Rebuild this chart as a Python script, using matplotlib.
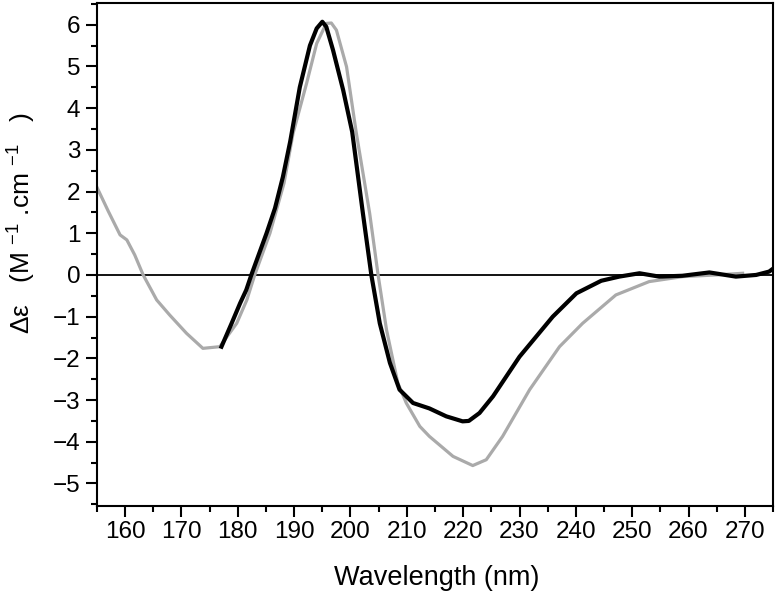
import matplotlib
matplotlib.use('Agg')
import matplotlib.pyplot as plt
from matplotlib.ticker import MultipleLocator

plt.rcParams['font.family'] = ['Liberation Sans', 'DejaVu Sans']
plt.rcParams['mathtext.fontset'] = 'custom'
plt.rcParams['mathtext.rm'] = 'Liberation Sans'
plt.rcParams['mathtext.it'] = 'Liberation Sans:italic'

# grey spectrum (wavelength nm, delta epsilon)
grey_x = [155.0, 157.0, 159.1, 160.3, 161.7, 163.2, 165.6, 167.9, 170.9, 173.8,
          176.8, 179.8, 181.6, 183.0, 185.7, 188.2, 189.8, 192.2, 194.0, 195.7,
          196.6, 197.5, 199.3, 201.0, 203.4, 204.9, 206.4, 208.4, 209.9, 212.3,
          214.0, 218.2, 221.7, 224.1, 227.0, 231.8, 237.1, 241.2, 247.1, 253.0,
          259.0, 264.9, 269.6]
grey_y = [2.1, 1.53, 0.96, 0.84, 0.48, 0.0, -0.6, -0.96, -1.4, -1.76,
          -1.72, -1.16, -0.6, 0.0, 1.0, 2.2, 3.39, 4.59, 5.55, 6.03,
          6.04, 5.87, 4.99, 3.43, 1.48, 0.0, -1.32, -2.59, -3.07, -3.63,
          -3.87, -4.35, -4.57, -4.43, -3.87, -2.75, -1.72, -1.16, -0.48, -0.16,
          -0.04, 0.0, 0.04]

# black spectrum
black_x = [177.1, 178.9, 180.4, 181.5, 182.4, 185.1, 186.6, 188.0, 189.3, 191.0,
           192.8, 194.0, 195.0, 195.7, 196.9, 198.7, 200.3, 202.2, 203.7, 205.2,
           207.0, 208.7, 211.1, 214.0, 217.0, 219.9, 221.0, 222.9, 225.3, 230.0,
           235.9, 240.1, 244.5, 247.7, 251.3, 254.8, 258.9, 263.7, 268.4, 272.0,
           274.3, 275.0]
black_y = [-1.72, -1.16, -0.68, -0.36, 0.0, 1.0, 1.6, 2.35, 3.2, 4.5,
           5.5, 5.91, 6.07, 5.95, 5.39, 4.43, 3.43, 1.48, 0.0, -1.16,
           -2.11, -2.75, -3.07, -3.2, -3.39, -3.51, -3.5, -3.31, -2.91, -1.96,
           -1.0, -0.44, -0.14, -0.04, 0.04, -0.04, -0.02, 0.06, -0.04, 0.0,
           0.08, 0.15]

fig = plt.figure(figsize=(7.77, 5.97), dpi=100)
ax = fig.add_axes([0.1248, 0.1524, 0.8701, 0.8426])

ax.axhline(0, color='black', lw=1.3, zorder=1)
ax.plot(grey_x, grey_y, color='#aaaaaa', lw=2.3, zorder=2, solid_joinstyle='round')
ax.plot(black_x, black_y, color='black', lw=3.0, zorder=3, solid_joinstyle='round')

ax.set_xlim(155, 275)
ax.set_ylim(-5.54, 6.52)
ax.xaxis.set_major_locator(MultipleLocator(10))
ax.xaxis.set_minor_locator(MultipleLocator(5))
ax.yaxis.set_major_locator(MultipleLocator(1))
ax.yaxis.set_minor_locator(MultipleLocator(0.5))
ax.tick_params(which='major', direction='out', length=8, width=1.5, labelsize=17.5)
ax.tick_params(which='minor', direction='out', length=4.5, width=1.5)
ax.tick_params(axis='x', pad=3)
ax.tick_params(axis='y', pad=4)
for s in ax.spines.values():
    s.set_linewidth(1.5)

ax.set_xticks(range(160, 271, 10))
ax.set_yticks(range(-5, 7))

ax.set_xlabel('Wavelength (nm)', fontsize=19.5)
ax.xaxis.set_label_coords(0.503, -0.118)
ax.set_ylabel('Δε   (M $^{-1}$ .cm $^{-1}$   )', fontsize=19)
ax.yaxis.set_label_coords(-0.087, 0.563)

fig.savefig('out.png', dpi=100)
